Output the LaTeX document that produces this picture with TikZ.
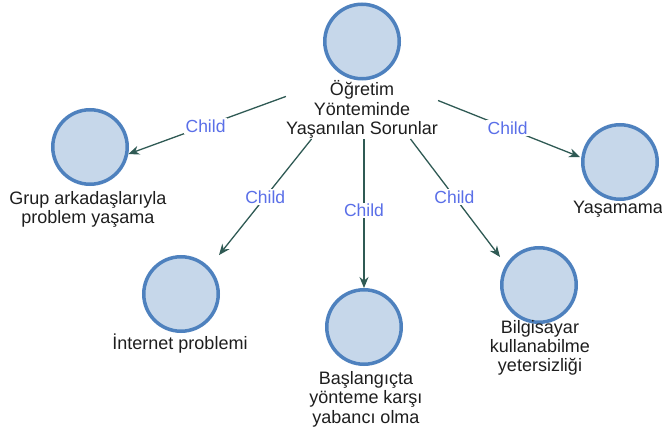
\documentclass[tikz,border=0pt]{standalone}
\usepackage{fontspec}
\setmainfont{Liberation Sans}
\usetikzlibrary{arrows.meta,calc}

\definecolor{ringblue}{HTML}{4E81BE}
\definecolor{discfill}{HTML}{C6D7EA}
\definecolor{edgeteal}{HTML}{2F5A54}
\definecolor{tagblue}{HTML}{5A6FE8}
\definecolor{inktext}{HTML}{1E1E1E}

\tikzset{
  topic/.style={circle, draw=ringblue, fill=discfill, line width=3.5pt,
    minimum size=74.5pt, inner sep=0pt},
  % captions are placed by the baseline of their last line
  caption/.style={anchor=base, align=center, inner sep=0pt, text=inktext,
    font=\fontsize{18}{19.5}\selectfont},
  link/.style={draw=edgeteal, line width=1.3pt,
    -{Stealth[length=11pt,width=9pt]}},
  tag/.style={fill=white, text=tagblue, inner sep=1.5pt,
    font=\fontsize{17.5}{19}\selectfont},
}

\begin{document}
\begin{tikzpicture}[x=1pt,y=1pt]
  \useasboundingbox (0,0) rectangle (662,429);

  % root topic and its caption
  \node[topic] (root) at (362,387.5) {};
  \node[caption] (rootlbl) at (362,294) {Öğretim\\Yönteminde\\Yaşanılan Sorunlar};

  % child topics
  \node[topic] (grup) at (90,282) {};
  \node[caption] (grupl) at (88,205) {Grup arkadaşlarıyla\\problem yaşama};

  \node[topic] (yasa) at (620,267) {};
  \node[caption] (yasal) at (618,215) {Yaşamama};

  \node[topic] (inet) at (181,135) {};
  \node[caption] (inetl) at (180,79) {İnternet problemi};

  \node[topic] (basl) at (364,102) {};
  \node[caption] (basll) at (366,6) {Başlangıçta\\yönteme karşı\\yabancı olma};

  \node[topic] (bilg) at (539,144) {};
  \node[caption] (bilgl) at (540,57) {Bilgisayar\\kullanabilme\\yetersizliği};

  % parent-child connectors
  \draw[link] (rootlbl.170.8) -- node[tag,pos=0.51] {Child} ($(grup.center)+(-10.4:39pt)$);
  \draw[link] (rootlbl.210) -- node[tag,pos=0.5] {Child} ($(inet.center)+(45.7:54.4pt)$);
  \draw[link] (rootlbl.south -| basl.north) -- node[tag,pos=0.48] {Child} (basl.north);
  \draw[link] (rootlbl.-31) -- node[tag,pos=0.49] {Child} ($(bilg.center)+(144.3:48pt)$);
  \draw[link] (rootlbl.7.6) -- node[tag,pos=0.49] {Child} ($(yasa.center)+(172.9:40.3pt)$);
\end{tikzpicture}
\end{document}
